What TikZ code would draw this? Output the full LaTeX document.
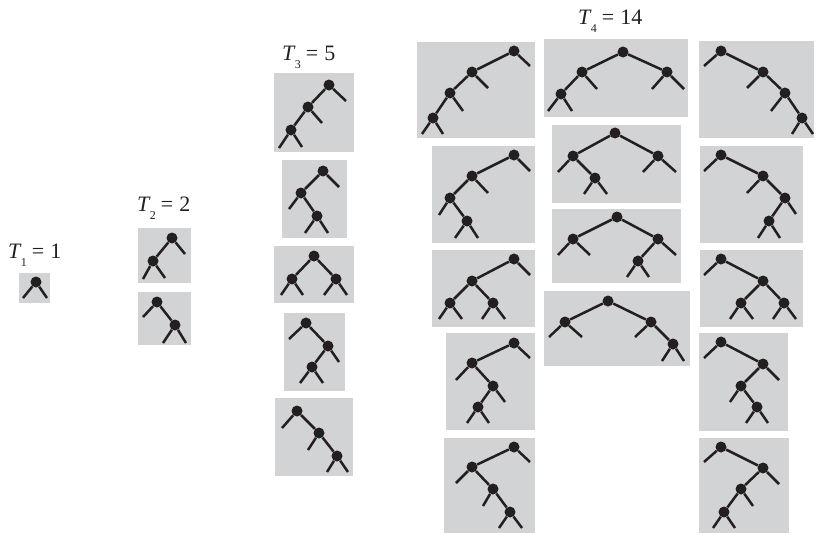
\documentclass[tikz,border=0pt]{standalone}
\usepackage{fontspec}
\newfontfamily\lblfont{Liberation Serif}
\definecolor{boxgray}{RGB}{209,211,212}
\definecolor{ink}{RGB}{35,31,32}
\newcommand\legto[3]{\coordinate (#2) at (#3); \draw[edge] (#1) -- (#2);}
\newcommand\tlabel[2]{{\itshape T}\kern0.5pt\raisebox{-8pt}{\fontsize{12}{12}\selectfont #1}\kern5pt=\kern6pt#2}
\begin{document}
\begin{tikzpicture}[x=1pt,y=-1pt,
  box/.style={fill=boxgray},
  tn/.style={circle,fill=ink,inner sep=0pt,minimum size=11pt},
  edge/.style={line width=2.5pt,draw=ink},
  lbl/.style={anchor=base west,inner sep=0pt,text=ink,font=\lblfont\fontsize{22}{24}\selectfont}]
\useasboundingbox (0,0) rectangle (816,533);

% ---------- labels ----------
\node[lbl] (lab1) at (8,258) {\tlabel{1}{1}};
\node[lbl] (lab2) at (137,211) {\tlabel{2}{2}};
\node[lbl] (lab3) at (282,60.5) {\tlabel{3}{5}};
\node[lbl] (lab4) at (578,24) {\tlabel{4}{14}};

% ---------- T1 ----------
\path[box] (19,273) rectangle (50,303);
\node[tn] (a-r) at (36,282) {};
\legto{a-r}{a-l1}{23,298}\legto{a-r}{a-l2}{47,298}

% ---------- T2 ----------
\path[box] (138,228) rectangle (191,283);
\node[tn] (b1-r) at (172,238) {};
\node[tn] (b1-L) at (153,261) {};
\draw[edge] (b1-r) -- (b1-L);
\legto{b1-r}{b1-l1}{185,254}
\legto{b1-L}{b1-l2}{143,279}\legto{b1-L}{b1-l3}{165,278}

\path[box] (138,292) rectangle (191,345);
\node[tn] (b2-r) at (157,302) {};
\node[tn] (b2-R) at (175,325) {};
\draw[edge] (b2-r) -- (b2-R);
\legto{b2-r}{b2-l1}{143,317}
\legto{b2-R}{b2-l2}{163,343}\legto{b2-R}{b2-l3}{186,343}

% ---------- T3 ----------
\path[box] (274,73) rectangle (354,152);
\node[tn] (c1-r) at (329,85) {};
\node[tn] (c1-L) at (308,107) {};
\node[tn] (c1-LL) at (291,130) {};
\draw[edge] (c1-r) -- (c1-L); \draw[edge] (c1-L) -- (c1-LL);
\legto{c1-r}{c1-l1}{346,101}
\legto{c1-L}{c1-l2}{322,123}
\legto{c1-LL}{c1-l3}{279,148}\legto{c1-LL}{c1-l4}{302,147}

\path[box] (282,160) rectangle (347,238);
\node[tn] (c2-r) at (323,171) {};
\node[tn] (c2-L) at (301,193) {};
\node[tn] (c2-LR) at (317,216) {};
\draw[edge] (c2-r) -- (c2-L); \draw[edge] (c2-L) -- (c2-LR);
\legto{c2-r}{c2-l1}{339,187}
\legto{c2-L}{c2-l2}{289,209}
\legto{c2-LR}{c2-l3}{305,233}\legto{c2-LR}{c2-l4}{328,233}

\path[box] (274,246) rectangle (354,303);
\node[tn] (c3-r) at (314,256) {};
\node[tn] (c3-L) at (292,279) {};
\node[tn] (c3-R) at (336,279) {};
\draw[edge] (c3-r) -- (c3-L); \draw[edge] (c3-r) -- (c3-R);
\legto{c3-L}{c3-l1}{281,295}\legto{c3-L}{c3-l2}{303,295}
\legto{c3-R}{c3-l3}{324,295}\legto{c3-R}{c3-l4}{347,295}

\path[box] (284,313) rectangle (345,391);
\node[tn] (c4-r) at (306,323) {};
\node[tn] (c4-R) at (328,346) {};
\node[tn] (c4-RL) at (312,367) {};
\draw[edge] (c4-r) -- (c4-R); \draw[edge] (c4-R) -- (c4-RL);
\legto{c4-r}{c4-l1}{289,339}
\legto{c4-R}{c4-l2}{339,362}
\legto{c4-RL}{c4-l3}{300,383}\legto{c4-RL}{c4-l4}{323,383}

\path[box] (275,398) rectangle (353,476);
\node[tn] (c5-r) at (297,411) {};
\node[tn] (c5-R) at (319,433) {};
\node[tn] (c5-RR) at (337,456) {};
\draw[edge] (c5-r) -- (c5-R); \draw[edge] (c5-R) -- (c5-RR);
\legto{c5-r}{c5-l1}{282,428}
\legto{c5-R}{c5-l2}{308,450}
\legto{c5-RR}{c5-l3}{327,472}\legto{c5-RR}{c5-l4}{348,472}

% ---------- T4, column 1 ----------
\path[box] (417,42) rectangle (535,138);
\node[tn] (d1-r) at (514,51) {};
\node[tn] (d1-L) at (472,72) {};
\node[tn] (d1-LL) at (450,93) {};
\node[tn] (d1-LLL) at (433,118) {};
\draw[edge] (d1-r) -- (d1-L); \draw[edge] (d1-L) -- (d1-LL); \draw[edge] (d1-LL) -- (d1-LLL);
\legto{d1-r}{d1-l1}{530,66}
\legto{d1-L}{d1-l2}{488,88}
\legto{d1-LL}{d1-l3}{463,111}
\legto{d1-LLL}{d1-l4}{422,134}\legto{d1-LLL}{d1-l5}{443,134}

\path[box] (432,146) rectangle (535,243);
\node[tn] (d2-r) at (514,155) {};
\node[tn] (d2-L) at (472,176) {};
\node[tn] (d2-LL) at (450,198) {};
\node[tn] (d2-LLR) at (467,221) {};
\draw[edge] (d2-r) -- (d2-L); \draw[edge] (d2-L) -- (d2-LL); \draw[edge] (d2-LL) -- (d2-LLR);
\legto{d2-r}{d2-l1}{530,171}
\legto{d2-L}{d2-l2}{488,193}
\legto{d2-LL}{d2-l3}{439,215}
\legto{d2-LLR}{d2-l4}{455,238}\legto{d2-LLR}{d2-l5}{478,238}

\path[box] (432,250) rectangle (535,327);
\node[tn] (d3-r) at (514,259) {};
\node[tn] (d3-L) at (472,281) {};
\node[tn] (d3-LL) at (450,303) {};
\node[tn] (d3-LR) at (493,303) {};
\draw[edge] (d3-r) -- (d3-L); \draw[edge] (d3-L) -- (d3-LL); \draw[edge] (d3-L) -- (d3-LR);
\legto{d3-r}{d3-l1}{530,275}
\legto{d3-LL}{d3-l2}{439,319}\legto{d3-LL}{d3-l3}{462,319}
\legto{d3-LR}{d3-l4}{482,319}\legto{d3-LR}{d3-l5}{505,319}

\path[box] (446,333) rectangle (535,430);
\node[tn] (d4-r) at (514,343) {};
\node[tn] (d4-L) at (472,363) {};
\node[tn] (d4-LR) at (493,386) {};
\node[tn] (d4-LRL) at (478,407) {};
\draw[edge] (d4-r) -- (d4-L); \draw[edge] (d4-L) -- (d4-LR); \draw[edge] (d4-LR) -- (d4-LRL);
\legto{d4-r}{d4-l1}{530,358}
\legto{d4-L}{d4-l2}{456,380}
\legto{d4-LR}{d4-l3}{505,402}
\legto{d4-LRL}{d4-l4}{467,423}\legto{d4-LRL}{d4-l5}{489,423}

\path[box] (444,438) rectangle (535,533);
\node[tn] (d5-r) at (514,447) {};
\node[tn] (d5-L) at (472,467) {};
\node[tn] (d5-LR) at (493,489) {};
\node[tn] (d5-LRR) at (510,512) {};
\draw[edge] (d5-r) -- (d5-L); \draw[edge] (d5-L) -- (d5-LR); \draw[edge] (d5-LR) -- (d5-LRR);
\legto{d5-r}{d5-l1}{530,462}
\legto{d5-L}{d5-l2}{456,483}
\legto{d5-LR}{d5-l3}{483,506}
\legto{d5-LRR}{d5-l4}{499,528}\legto{d5-LRR}{d5-l5}{522,528}

% ---------- T4, column 2 ----------
\path[box] (544,39) rectangle (688,117);
\node[tn] (e1-r) at (623,52) {};
\node[tn] (e1-L) at (582,72) {};
\node[tn] (e1-R) at (667,72) {};
\node[tn] (e1-LL) at (561,94) {};
\draw[edge] (e1-r) -- (e1-L); \draw[edge] (e1-r) -- (e1-R); \draw[edge] (e1-L) -- (e1-LL);
\legto{e1-L}{e1-l1}{597,89}
\legto{e1-R}{e1-l2}{652,89}\legto{e1-R}{e1-l3}{684,89}
\legto{e1-LL}{e1-l4}{548,111}\legto{e1-LL}{e1-l5}{572,111}

\path[box] (552,125) rectangle (681,203);
\node[tn] (e2-r) at (615,133) {};
\node[tn] (e2-L) at (573,156) {};
\node[tn] (e2-R) at (658,156) {};
\node[tn] (e2-LR) at (595,178) {};
\draw[edge] (e2-r) -- (e2-L); \draw[edge] (e2-r) -- (e2-R); \draw[edge] (e2-L) -- (e2-LR);
\legto{e2-L}{e2-l1}{558,172}
\legto{e2-R}{e2-l2}{643,172}\legto{e2-R}{e2-l3}{676,172}
\legto{e2-LR}{e2-l4}{584,194}\legto{e2-LR}{e2-l5}{607,194}

\path[box] (552,209) rectangle (681,283);
\node[tn] (e3-r) at (617,217) {};
\node[tn] (e3-L) at (573,239) {};
\node[tn] (e3-R) at (658,239) {};
\node[tn] (e3-RL) at (638,261) {};
\draw[edge] (e3-r) -- (e3-L); \draw[edge] (e3-r) -- (e3-R); \draw[edge] (e3-R) -- (e3-RL);
\legto{e3-L}{e3-l1}{558,255}\legto{e3-L}{e3-l2}{590,255}
\legto{e3-R}{e3-l3}{676,255}
\legto{e3-RL}{e3-l4}{627,277}\legto{e3-RL}{e3-l5}{649,277}

\path[box] (544,291) rectangle (690,366);
\node[tn] (e4-r) at (608,301) {};
\node[tn] (e4-L) at (565,322) {};
\node[tn] (e4-R) at (651,322) {};
\node[tn] (e4-RR) at (673,344) {};
\draw[edge] (e4-r) -- (e4-L); \draw[edge] (e4-r) -- (e4-R); \draw[edge] (e4-R) -- (e4-RR);
\legto{e4-L}{e4-l1}{549,337}\legto{e4-L}{e4-l2}{582,337}
\legto{e4-R}{e4-l3}{635,337}
\legto{e4-RR}{e4-l4}{662,361}\legto{e4-RR}{e4-l5}{684,361}

% ---------- T4, column 3 ----------
\path[box] (699,41) rectangle (814,138);
\node[tn] (f1-r) at (721,51) {};
\node[tn] (f1-R) at (763,72) {};
\node[tn] (f1-RR) at (785,93) {};
\node[tn] (f1-RRR) at (802,118) {};
\draw[edge] (f1-r) -- (f1-R); \draw[edge] (f1-R) -- (f1-RR); \draw[edge] (f1-RR) -- (f1-RRR);
\legto{f1-r}{f1-l1}{704,66}
\legto{f1-R}{f1-l2}{747,88}
\legto{f1-RR}{f1-l3}{771,111}
\legto{f1-RRR}{f1-l4}{792,134}\legto{f1-RRR}{f1-l5}{813,134}

\path[box] (700,146) rectangle (803,243);
\node[tn] (f2-r) at (721,155) {};
\node[tn] (f2-R) at (763,176) {};
\node[tn] (f2-RR) at (785,198) {};
\node[tn] (f2-RRL) at (769,221) {};
\draw[edge] (f2-r) -- (f2-R); \draw[edge] (f2-R) -- (f2-RR); \draw[edge] (f2-RR) -- (f2-RRL);
\legto{f2-r}{f2-l1}{704,171}
\legto{f2-R}{f2-l2}{747,193}
\legto{f2-RR}{f2-l3}{796,214}
\legto{f2-RRL}{f2-l4}{758,238}\legto{f2-RRL}{f2-l5}{780,238}

\path[box] (700,250) rectangle (803,327);
\node[tn] (f3-r) at (721,259) {};
\node[tn] (f3-R) at (763,281) {};
\node[tn] (f3-RL) at (741,303) {};
\node[tn] (f3-RR) at (784,303) {};
\draw[edge] (f3-r) -- (f3-R); \draw[edge] (f3-R) -- (f3-RL); \draw[edge] (f3-R) -- (f3-RR);
\legto{f3-r}{f3-l1}{704,275}
\legto{f3-RL}{f3-l2}{730,319}\legto{f3-RL}{f3-l3}{753,319}
\legto{f3-RR}{f3-l4}{773,319}\legto{f3-RR}{f3-l5}{796,319}

\path[box] (699,333) rectangle (788,431);
\node[tn] (f4-r) at (721,342) {};
\node[tn] (f4-R) at (763,364) {};
\node[tn] (f4-RL) at (741,386) {};
\node[tn] (f4-RLR) at (757,407) {};
\draw[edge] (f4-r) -- (f4-R); \draw[edge] (f4-R) -- (f4-RL); \draw[edge] (f4-RL) -- (f4-RLR);
\legto{f4-r}{f4-l1}{704,358}
\legto{f4-R}{f4-l2}{779,380}
\legto{f4-RL}{f4-l3}{730,402}
\legto{f4-RLR}{f4-l4}{746,423}\legto{f4-RLR}{f4-l5}{768,423}

\path[box] (699,438) rectangle (789,533);
\node[tn] (f5-r) at (721,447) {};
\node[tn] (f5-R) at (763,468) {};
\node[tn] (f5-RL) at (741,489) {};
\node[tn] (f5-RLL) at (724,512) {};
\draw[edge] (f5-r) -- (f5-R); \draw[edge] (f5-R) -- (f5-RL); \draw[edge] (f5-RL) -- (f5-RLL);
\legto{f5-r}{f5-l1}{704,462}
\legto{f5-R}{f5-l2}{779,484}
\legto{f5-RL}{f5-l3}{753,506}
\legto{f5-RLL}{f5-l4}{713,528}\legto{f5-RLL}{f5-l5}{735,528}
\end{tikzpicture}
\end{document}
